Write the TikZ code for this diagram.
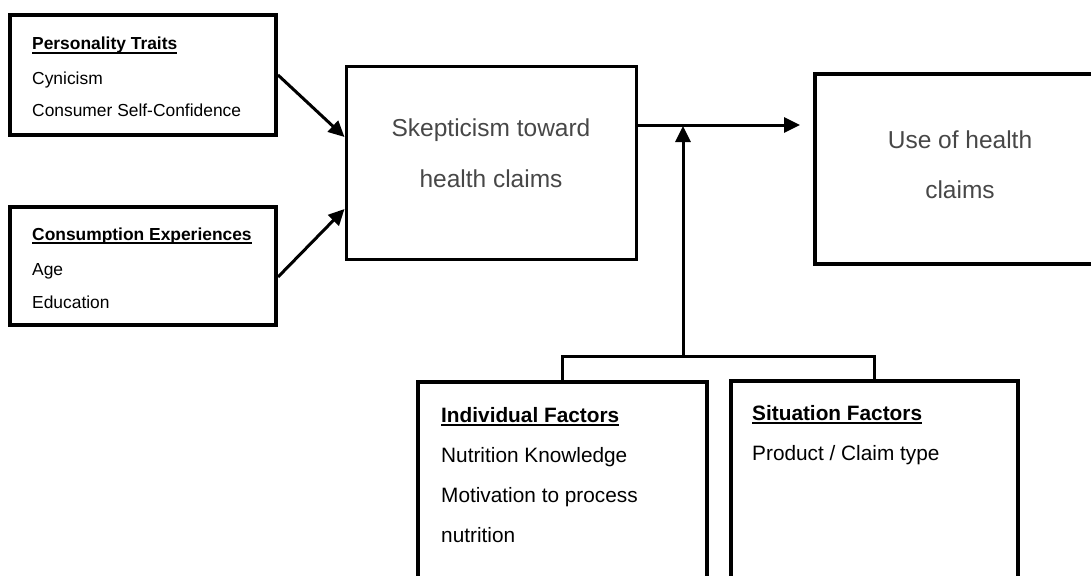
\documentclass[tikz,border=0pt]{standalone}
\usepackage{fontspec}
\setmainfont{Liberation Sans}
\usetikzlibrary{arrows.meta,calc}
\begin{document}
\begin{tikzpicture}[x=1pt,y=-1pt,
  box/.style={draw, line width=4pt, rectangle, inner sep=0pt},
  midbox/.style={draw, line width=3pt, rectangle, inner sep=0pt},
  conn/.style={line width=3pt, -{Triangle[length=16pt,width=15pt]}},
  wire/.style={line width=3pt},
  lbl/.style={anchor=base west, inner sep=0pt, font=\fontsize{17.4}{20}\selectfont},
  hdr/.style={anchor=base west, inner sep=0pt, font=\fontsize{17.4}{20}\selectfont\bfseries},
  big/.style={anchor=base, inner sep=0pt, text=black!72, font=\fontsize{24.5}{28}\selectfont},
  blbl/.style={anchor=base west, inner sep=0pt, font=\fontsize{20.8}{24}\selectfont},
  bhdr/.style={anchor=base west, inner sep=0pt, font=\fontsize{20.8}{24}\selectfont\bfseries},
  uline/.style={line width=1.7pt}
]
\useasboundingbox (0,0) rectangle (1091,575);

% boxes
\node[box, minimum width=266pt, minimum height=120pt] (p1) at (143,75) {};
\node[box, minimum width=266pt, minimum height=118pt] (p2) at (143,266) {};
\node[midbox, minimum width=290pt, minimum height=192pt] (sk) at (491,163) {};
\node[box, minimum width=290pt, minimum height=190pt] (use) at (960,169) {};
\node[box, minimum width=289pt, minimum height=218pt] (ind) at (562.5,491) {};
\node[box, minimum width=287pt, minimum height=219pt] (sit) at (874.5,490.5) {};

% texts box 1
\node[hdr] (h1) at (32,50) {Personality Traits};
\draw[uline] ($(h1.base west)+(0,2.8)$) -- ($(h1.base east)+(0,2.8)$);
\node[lbl] (t11) at (32,84.5) {Cynicism};
\node[lbl] (t12) at (32,117) {Consumer Self-Confidence};

% texts box 2
\node[hdr] (h2) at (32,240.5) {Consumption Experiences};
\draw[uline] ($(h2.base west)+(0,2.8)$) -- ($(h2.base east)+(0,2.8)$);
\node[lbl] (t21) at (32,275) {Age};
\node[lbl] (t22) at (32,308) {Education};

% center
\node[big] (s1) at (491,136) {Skepticism toward};
\node[big] (s2) at (491,187) {health claims};

% right
\node[big] (u1) at (960,148) {Use of health};
\node[big] (u2) at (960,198) {claims};

% bottom left
\node[bhdr] (h3) at (441,422) {Individual Factors};
\draw[uline] ($(h3.base west)+(0,3)$) -- ($(h3.base east)+(0,3)$);
\node[blbl] (t31) at (441,462) {Nutrition Knowledge};
\node[blbl] (t32) at (441,502) {Motivation to process};
\node[blbl] (t33) at (441,542) {nutrition};

% bottom right
\node[bhdr] (h4) at (752,420) {Situation Factors};
\draw[uline] ($(h4.base west)+(0,3)$) -- ($(h4.base east)+(0,3)$);
\node[blbl] (t41) at (752,460) {Product / Claim type};

% connectors
\draw[conn] (p1.east) -- ($(sk.west)+(0,-26)$);
\draw[conn] ($(p2.east)+(0,11)$) -- ($(sk.west)+(0,46)$);
\coordinate (j) at (683,125);
\coordinate (br) at (683,356);
\draw[conn, shorten >=13pt] ($(sk.east)+(0,-38)$) -- (use.west |- j);
\draw[wire] (ind.north) |- (br) -| (sit.north);
\draw[conn, shorten >=1pt] (br) -- (j);
\end{tikzpicture}
\end{document}
